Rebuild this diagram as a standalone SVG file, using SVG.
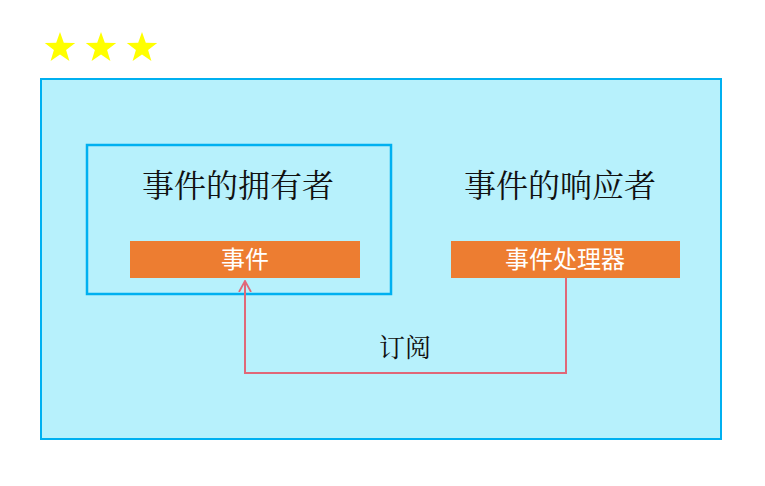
<svg xmlns="http://www.w3.org/2000/svg" width="765" height="486" viewBox="0 0 765 486">
<style>
.t{font-family:"Noto Serif CJK SC","Noto Sans CJK SC",serif;fill:#111;text-anchor:middle}
.w{font-family:"Noto Sans CJK SC",sans-serif;fill:#fff;text-anchor:middle;font-size:24px}
.bar{fill:#ed7d31}
.star{fill:#ffff00}
</style>
<defs>
<marker id="ah" viewBox="0 0 12 14" refX="11" refY="7" markerWidth="12" markerHeight="14" markerUnits="userSpaceOnUse" orient="auto">
<path d="M0 1 L11 7 L0 13" fill="none" stroke="#e06878" stroke-width="1.8"/>
</marker>
<polygon id="st" points="0,-16 3.8,-5.2 15.2,-4.9 6.1,2 9.4,12.9 0,6.5 -9.4,12.9 -6.1,2 -15.2,-4.9 -3.8,-5.2"/>
</defs>
<g id="stars">
<use href="#st" class="star" x="60" y="48"/>
<use href="#st" class="star" x="101" y="48"/>
<use href="#st" class="star" x="142" y="48"/>
</g>
<g id="frame"><rect x="41" y="79" width="680" height="360" fill="#b7f1fc" stroke="#00b0f0" stroke-width="2"/></g>
<g id="owner">
<rect x="87" y="145" width="304" height="149" fill="none" stroke="#00b0f0" stroke-width="2.5"/>
<text class="t" x="238" y="197" font-size="32">事件的拥有者</text>
</g>
<g id="event">
<rect class="bar" x="130" y="241" width="230" height="37"/>
<text class="w" x="245" y="268">事件</text>
</g>
<g id="responder">
<text class="t" x="560" y="197" font-size="32">事件的响应者</text>
</g>
<g id="handler">
<rect class="bar" x="451" y="241" width="229" height="37"/>
<text class="w" x="565" y="268">事件处理器</text>
</g>
<g id="connectors">
<polyline points="566,278 566,373 245,373 245,281" fill="none" stroke="#e06878" stroke-width="2" marker-end="url(#ah)"/>
<text class="t" x="405" y="357" font-size="26">订阅</text>
</g>
</svg>
